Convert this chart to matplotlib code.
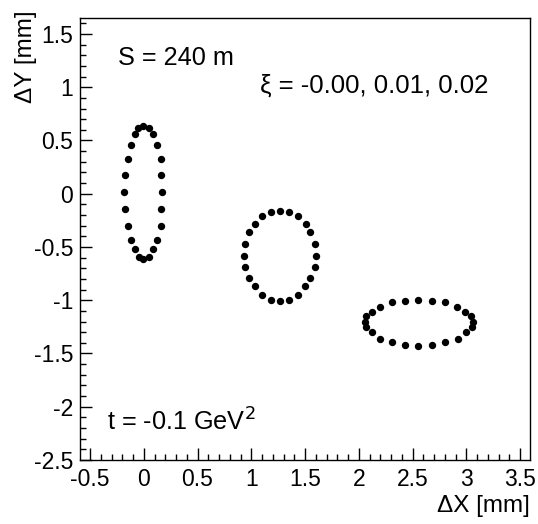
import matplotlib
matplotlib.use("Agg")
import matplotlib.pyplot as plt
from matplotlib.ticker import MultipleLocator, FormatStrFormatter

plt.rcParams['font.family'] = ['Liberation Sans', 'DejaVu Sans']
plt.rcParams['axes.unicode_minus'] = False

# beam spot ellipses, xi = -0.00, 0.01, 0.02
X_XI0 = [-0.01, 0.05, 0.09, 0.12, 0.16, 0.16, 0.17, 0.16, 0.16, 0.12, 0.09, 0.05,
         -0.01, -0.04, -0.08, -0.12, -0.15, -0.17, -0.18, -0.17, -0.15, -0.12, -0.08, -0.05]
Y_XI0 = [0.64, 0.62, 0.56, 0.46, 0.33, 0.18, 0.02, -0.14, -0.30, -0.43, -0.52, -0.59,
         -0.61, -0.59, -0.52, -0.43, -0.30, -0.14, 0.02, 0.18, 0.33, 0.46, 0.56, 0.62]

X_XI1 = [1.27, 1.35, 1.43, 1.51, 1.55, 1.59, 1.60, 1.59, 1.55, 1.50, 1.43, 1.35,
         1.27, 1.18, 1.10, 1.03, 0.98, 0.94, 0.93, 0.94, 0.98, 1.03, 1.10, 1.18]
Y_XI1 = [-0.16, -0.17, -0.21, -0.28, -0.36, -0.47, -0.58, -0.69, -0.79, -0.87, -0.95, -1.00,
         -1.01, -1.00, -0.95, -0.87, -0.79, -0.69, -0.58, -0.47, -0.36, -0.28, -0.21, -0.17]

X_XI2 = [2.55, 2.68, 2.80, 2.91, 2.99, 3.04, 3.06, 3.05, 3.00, 2.92, 2.80, 2.68,
         2.55, 2.43, 2.31, 2.20, 2.12, 2.07, 2.06, 2.07, 2.12, 2.20, 2.31, 2.43]
Y_XI2 = [-1.00, -1.01, -1.02, -1.06, -1.11, -1.15, -1.20, -1.25, -1.30, -1.36, -1.39, -1.42,
         -1.43, -1.42, -1.39, -1.36, -1.30, -1.25, -1.20, -1.15, -1.11, -1.06, -1.02, -1.01]

W, H = 538, 524
fig = plt.figure(figsize=(W/100, H/100), dpi=100)
ax = fig.add_axes([80/W, 1-460/H, 449.5/W, 442/H])

for xs, ys in [(X_XI0, Y_XI0), (X_XI1, Y_XI1), (X_XI2, Y_XI2)]:
    ax.plot(xs, ys, 'o', color='black', markersize=5.3, markeredgewidth=0)

ax.set_xlim(-0.593, 3.587)
ax.set_ylim(-2.5, 1.65)

ax.xaxis.set_major_locator(MultipleLocator(0.5))
ax.xaxis.set_minor_locator(MultipleLocator(0.1))
ax.yaxis.set_major_locator(MultipleLocator(0.5))
ax.yaxis.set_minor_locator(MultipleLocator(0.1))
ax.xaxis.set_major_formatter(FormatStrFormatter('%g'))
ax.yaxis.set_major_formatter(FormatStrFormatter('%g'))
ax.tick_params(which='both', direction='in', top=False, right=False, width=1, labelsize=16.5)
ax.tick_params(which='major', length=8.5)
ax.tick_params(which='minor', length=4.5)
ax.tick_params(axis='x', pad=6)
ax.tick_params(axis='y', pad=5)
for s in ax.spines.values():
    s.set_linewidth(1)

fig.text(530/W, 1-512/H, "\u0394X [mm]", ha='right', va='baseline', fontsize=17.5)
fig.text(15/W, 1-10/H, "\u0394Y [mm]", ha='left', va='top', rotation=90, fontsize=17.5)

fig.text(118/W, 1-65/H, "S = 240 m", ha='left', va='baseline', fontsize=18.2)
fig.text(260/W, 1-93/H, "\u03be = -0.00, 0.01, 0.02", ha='left', va='baseline', fontsize=18.5)
fig.text(107/W, 1-431/H, "t = -0.1 GeV$^{2}$", ha='left', va='baseline', fontsize=18.2)

fig.savefig("out.png", dpi=100)
